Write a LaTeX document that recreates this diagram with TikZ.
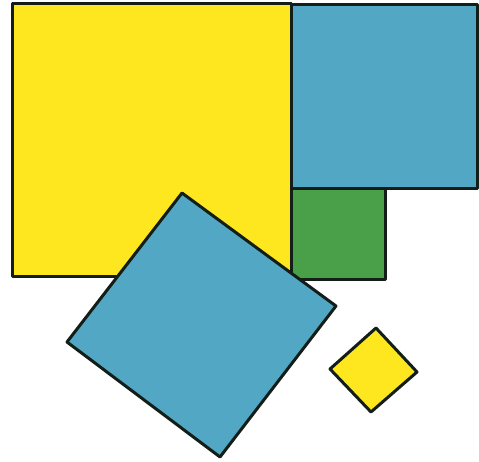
\documentclass[tikz,border=0pt]{standalone}
\definecolor{sqyellow}{RGB}{255,231,32}
\definecolor{sqblue}{RGB}{82,168,196}
\definecolor{sqgreen}{RGB}{74,160,72}
\definecolor{sqline}{RGB}{20,30,25}
\begin{document}
\begin{tikzpicture}[x=1pt,y=-1pt,
  sqshape/.style={draw=sqline,line width=3pt,line join=round}]
\useasboundingbox (0,0) rectangle (479,462);
\fill[white] (0,0) rectangle (479,462);
\filldraw[sqshape,fill=sqyellow] (12,4) rectangle (291,277);
\filldraw[sqshape,fill=sqblue] (291,5) rectangle (477,189);
\filldraw[sqshape,fill=sqgreen] (291,189) rectangle (385,280);
\filldraw[sqshape,fill=sqblue] (182,193) -- (336,306) -- (220,457) -- (67,342) -- cycle;
\filldraw[sqshape,fill=sqyellow] (376,328) -- (417,372) -- (371,412) -- (330,369) -- cycle;
\end{tikzpicture}
\end{document}
